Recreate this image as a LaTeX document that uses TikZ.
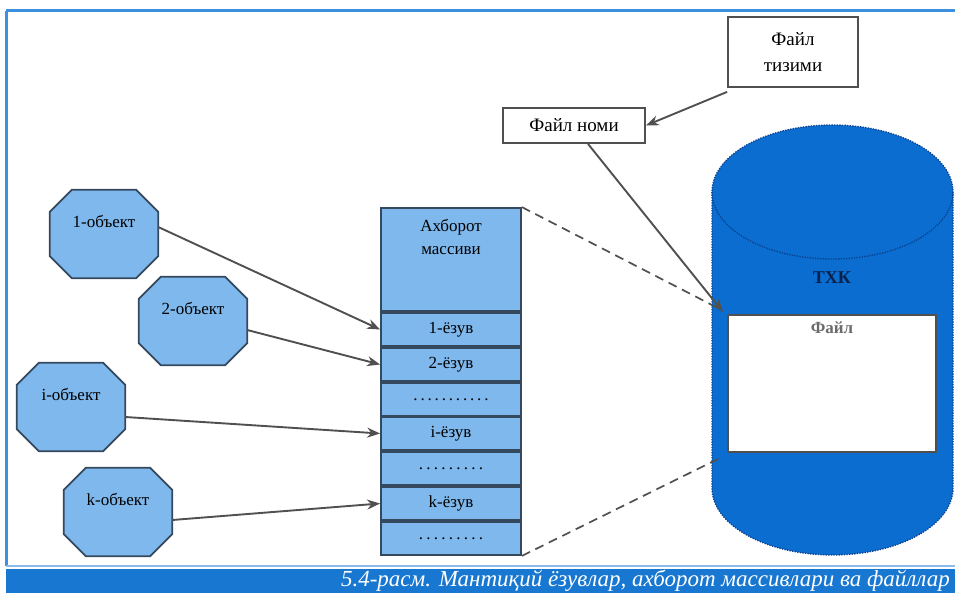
\documentclass[tikz,border=0pt]{standalone}
\usepackage{fontspec}
\setmainfont{Liberation Serif}
\usetikzlibrary{arrows.meta,backgrounds}
\definecolor{lb}{HTML}{7FB8EC}
\definecolor{dk}{HTML}{34495E}
\definecolor{cyl}{HTML}{0A6DCF}
\definecolor{cyld}{HTML}{0B3E8C}
\definecolor{framec}{HTML}{3D8FE0}
\definecolor{capbar}{HTML}{1877D1}
\definecolor{arr}{HTML}{505050}
\newcommand\mydots[1]{\hbox to #1{\xleaders\hbox to 7pt{\hss.\hss}\hfill}}
\begin{document}
\begin{tikzpicture}[x=1pt,y=-1pt,
 objbox/.style={minimum width=108pt,minimum height=88pt,inner sep=0pt,text depth=25pt,font=\fontsize{17}{20}\selectfont},
 rowbox/.style={draw=dk,line width=1.8pt,fill=lb,minimum width=140pt,minimum height=33pt,inner sep=0pt,font=\fontsize{17}{20}\selectfont},
 wbox/.style={draw=arr,line width=1.8pt,fill=white,inner sep=0pt,font=\fontsize{19}{26}\selectfont},
 conn/.style={draw=arr,line width=1.9pt,-{Stealth[length=13pt,width=10pt]}},
 dashc/.style={draw=arr,line width=1.7pt,dash pattern=on 9pt off 6pt},
 octo/.style={fill=lb,draw=dk,line width=1.8pt}]
\useasboundingbox (0,0) rectangle (955,593);
% frame and caption
\draw[framec,line width=3pt] (6,11) -- (955,11);
\draw[framec,line width=3pt] (6,11) -- (6,566);
\draw[framec!60,line width=1.5pt] (6,566) -- (955,566);
\fill[capbar] (6,569) rectangle (955,593);
\node[anchor=east,text=white,inner sep=0pt,font=\fontsize{23}{24}\selectfont\itshape] (cap) at (950,581) {5.4-расм. Мантиқий ёзувлар, ахборот массивлари ва файллар};
% cylinder
\fill[cyl] (712,192) -- (712,488) arc[start angle=180,end angle=360,x radius=120.5pt,y radius=67pt] -- (953,192) arc[start angle=0,end angle=180,x radius=120.5pt,y radius=67pt] -- cycle;
\draw[cyld,line width=1.3pt,dash pattern=on 1.3pt off 1.3pt] (712,192) -- (712,488) arc[start angle=180,end angle=360,x radius=120.5pt,y radius=67pt] -- (953,192) arc[start angle=0,end angle=180,x radius=120.5pt,y radius=67pt];
\draw[cyld,line width=1.3pt,dash pattern=on 1.3pt off 1.3pt] (712,192) arc[start angle=180,end angle=360,x radius=120.5pt,y radius=67pt];
\node[font=\bfseries\fontsize{18}{20}\selectfont,text=cyld!55!black] (txk) at (832,278) {ТХК};
\node[wbox,minimum width=208pt,minimum height=137pt,text depth=112pt,text=arr!85,font=\bfseries\fontsize{17}{20}\selectfont] (file) at (832,383.5) {Файл};
\coordinate (ftip) at (723,312);
\coordinate (cylA) at (712,305);
\coordinate (cylB) at (722,457);
% top boxes
\node[wbox,minimum width=130pt,minimum height=70pt,align=center] (fsys) at (793,52) {Файл\\тизими};
\node[wbox,minimum width=142pt,minimum height=35pt] (fname) at (574,125.5) {Файл номи};
% array
\node[rowbox,minimum height=103pt] (hdr) at (451,259.5) {};
\node[align=center,font=\fontsize{17}{23}\selectfont] (hdrt) at (451,237) {Ахборот\\массиви};
\node[rowbox] (r1) at (451,329.5) {1-ёзув};
\node[rowbox] (r2) at (451,364.5) {2-ёзув};
\node[rowbox] (r3) at (451,399.5) {\mydots{78pt}};
\node[rowbox] (r4) at (451,433.5) {i-ёзув};
\node[rowbox] (r5) at (451,468.5) {\mydots{68pt}};
\node[rowbox] (r6) at (451,503.5) {k-ёзув};
\node[rowbox] (r7) at (451,538.5) {\mydots{68pt}};
% objects
\node[objbox] (o1) at (104,234) {1-объект};
\node[objbox] (o2) at (193,321) {2-объект};
\node[objbox] (o3) at (71,407) {i-объект};
\node[objbox] (o4) at (118,512) {k-объект};
\begin{scope}[on background layer]
\foreach \n in {o1,o2,o3,o4}{
 \filldraw[octo] ([xshift=22pt]\n.north west) -- ([xshift=-22pt]\n.north east) -- ([yshift=-22pt]\n.north east) -- ([yshift=22pt]\n.south east) -- ([xshift=-22pt]\n.south east) -- ([xshift=22pt]\n.south west) -- ([yshift=22pt]\n.south west) -- ([yshift=-22pt]\n.north west) -- cycle;}
\end{scope}
% connectors
\draw[conn] ([yshift=7pt]o1.east) -- (r1.west);
\draw[conn] ([yshift=-9pt]o2.east) -- (r2.west);
\draw[conn] ([yshift=-10pt]o3.east) -- (r4.west);
\draw[conn] ([yshift=-8pt]o4.east) -- (r6.west);
\draw[conn] ([yshift=-4pt]fsys.south west) -- (fname.east);
\draw[conn] ([xshift=14pt]fname.south) -- (ftip);
\draw[dashc] (hdr.north east) -- (cylA);
\draw[dashc] (r7.south east) -- (cylB);
\end{tikzpicture}
\end{document}
